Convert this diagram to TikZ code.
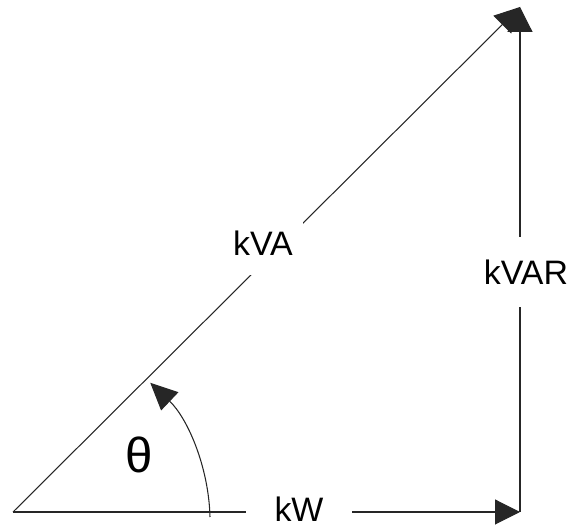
\documentclass[tikz,border=0pt]{standalone}
\usepackage{fontspec}
\setmainfont{Liberation Sans}
\usetikzlibrary{arrows.meta}

\tikzset{
  vec/.style={draw=black!85, line width=0.6pt, -{Triangle[length=0.5cm, width=0.5cm]}},
  lbl/.style={fill=white, inner sep=0pt, font=\fontsize{19.3}{23}\selectfont},
}

\begin{document}
\begin{tikzpicture}[x=0.02cm, y=0.02cm]
  \useasboundingbox (0,0) rectangle (571,526);

  % corners of the triangle
  \coordinate (o) at (13,14);
  \coordinate (c) at (520,14);
  \coordinate (t) at (520,519);
  \coordinate (arcstart) at (210,9);

  % power vectors
  \draw[vec] (o) -- (c);
  \draw[vec] (c) -- (t);
  \draw[vec] (o) -- (t);

  % labels sitting over the vectors
  \node[lbl, minimum width=1.6cm, minimum height=1.28cm] (kva) at (263,283) {kVA};
  \node[lbl, minimum width=1.9cm, minimum height=1.4cm] (kvar) at (526,254) {kVAR};
  \node[lbl, minimum width=2.12cm, minimum height=0.6cm] (kw) at (299,17) {kW};

  % angle between kW and kVA
  \draw[vec, -{Triangle[length=0.54cm, width=0.5cm]}] (arcstart) arc[start angle=1.5, end angle=46.5, radius=192];
  \node[font=\fontsize{28}{32}\selectfont] (theta) at (139,71) {θ};

\end{tikzpicture}
\end{document}
